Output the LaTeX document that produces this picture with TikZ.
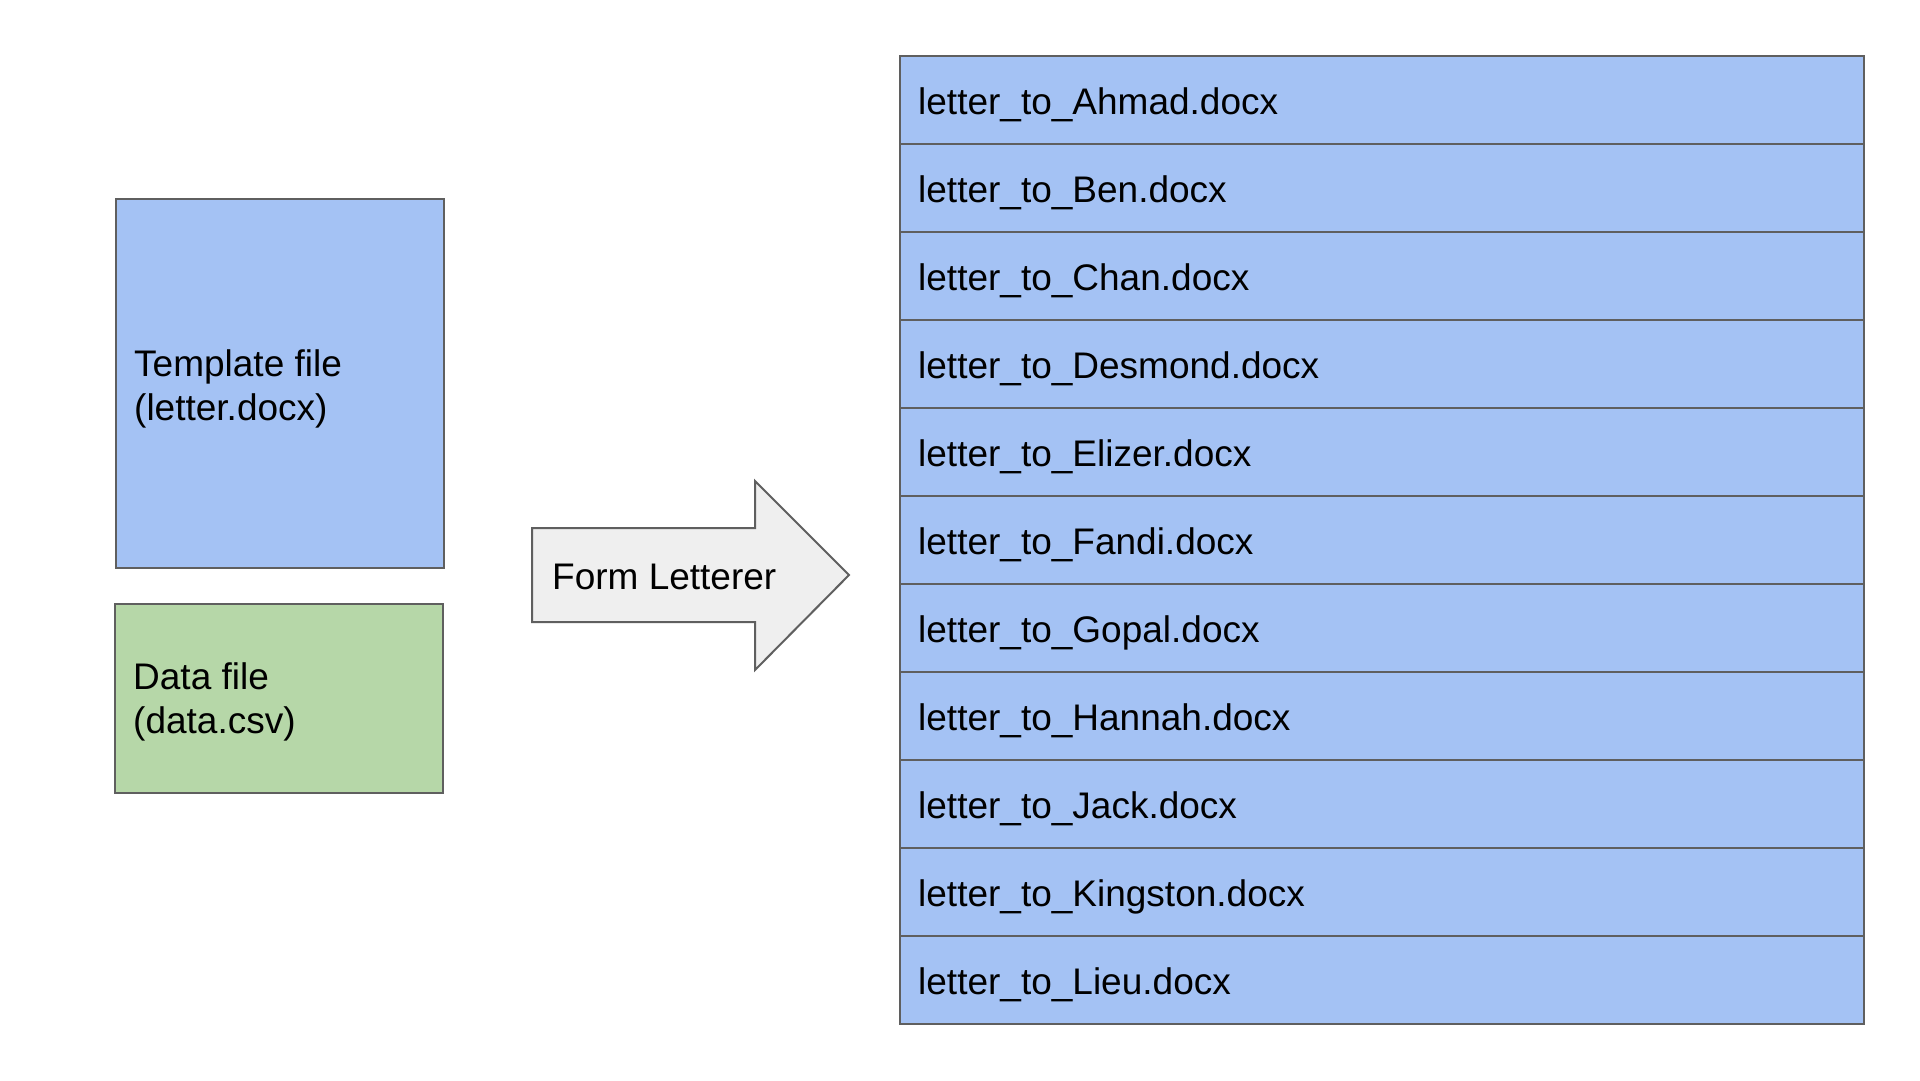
\documentclass[tikz,border=0pt]{standalone}
\usepackage{fontspec}
\setmainfont{Liberation Sans}
\definecolor{fileblue}{HTML}{A4C2F4}
\definecolor{filegreen}{HTML}{B6D7A8}
\definecolor{arrowgray}{HTML}{EFEFEF}
\definecolor{edgegray}{HTML}{5F5F5F}
\begin{document}
\begin{tikzpicture}[x=1pt,y=-1pt,
  every node/.style={font=\fontsize{37}{44}\selectfont},
  filebox/.style={draw=edgegray, line width=2pt, rectangle, anchor=north west,
    inner sep=0pt, minimum width=328pt},
  rowbox/.style={draw=edgegray, fill=fileblue, line width=2pt, rectangle,
    anchor=north west, inner sep=0pt, minimum width=964pt, minimum height=88pt},
  lbl/.style={anchor=west, align=left, inner sep=0pt},
  arrowshape/.style={draw=edgegray, fill=arrowgray, line width=2pt, line join=miter}
]
\useasboundingbox[fill=white] (0,0) rectangle (1920,1080);

% input files
\node[filebox, fill=fileblue, minimum height=369pt] (template) at (115,198) {};
\node[lbl] (templatetxt) at ([xshift=19pt,yshift=-5pt]template.west)
  {Template file\\(letter.docx)};
\node[filebox, fill=filegreen, minimum height=189pt] (data) at (114,603) {};
\node[lbl] (datatxt) at ([xshift=19pt,yshift=-3pt]data.west)
  {Data file\\(data.csv)};

% process arrow
\draw[arrowshape] (532,528) -- (755,528) -- (755,481) -- (849,575)
  -- (755,670) -- (755,622) -- (532,622) -- cycle;
\node[lbl] (proc) at (552,576.5) {Form Letterer};

% output files
\foreach \name [count=\i from 0] in {Ahmad,Ben,Chan,Desmond,Elizer,Fandi,Gopal,Hannah,Jack,Kingston,Lieu}{
  \node[rowbox] (out\i) at (899,{55+88*\i}) {};
  \node[lbl] (outtxt\i) at ([xshift=19pt,yshift=-5pt]out\i.west) {letter\_to\_\name.docx};
}
\end{tikzpicture}
\end{document}
